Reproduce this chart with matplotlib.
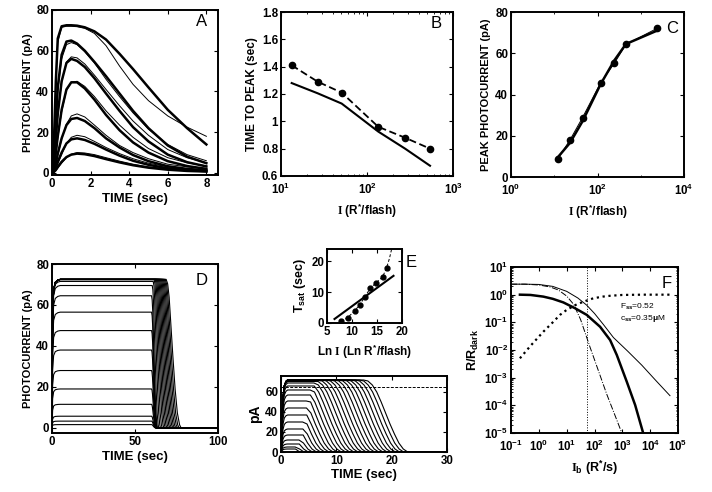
import matplotlib
matplotlib.use('Agg')
import numpy as np
import matplotlib.pyplot as plt
from matplotlib.ticker import LogLocator, NullFormatter, FormatStrFormatter

plt.rcParams['font.family'] = 'Liberation Sans'
plt.rcParams['font.weight'] = 'bold'
plt.rcParams['axes.labelweight'] = 'bold'
plt.rcParams['mathtext.fontset'] = 'custom'
plt.rcParams['mathtext.rm'] = 'Liberation Serif'
plt.rcParams['mathtext.bf'] = 'Liberation Sans:bold'
plt.rcParams['mathtext.default'] = 'bf'

# ---- A: flash responses (thick = model, thin = data)
tA = [0, 0.1, 0.2, 0.3, 0.5, 0.75, 1.0, 1.3, 1.7, 2.2, 2.8, 3.5, 4.2, 5.0, 6.0, 7.0, 8.0]
A_model = [
    [0, 0.5, 1.5, 3, 5.5, 7.8, 9.0, 9.5, 9.2, 8.3, 6.8, 5.2, 3.8, 2.6, 1.6, 1.0, 0.7],
    [0, 1, 3, 5.5, 10, 14.5, 16.5, 17, 16.2, 14.3, 11.5, 8.5, 6, 4, 2.3, 1.4, 0.9],
    [0, 1.5, 5, 9.5, 17, 23.5, 26.5, 27, 25.5, 22, 17, 12.5, 8.8, 5.8, 3.3, 2.0, 1.3],
    [0, 3, 10, 18, 31, 41, 44.5, 44.5, 41.5, 36, 28.5, 21, 15, 10, 5.8, 3.4, 2.0],
    [0, 5, 17, 29, 45, 54, 56, 55, 52, 46.5, 39, 30.5, 22.5, 15.5, 9, 5.3, 3.2],
    [0, 8, 26, 42, 58, 64.5, 65, 63.5, 60, 54.5, 47.5, 39, 30.5, 22, 13.5, 8, 4.8],
    [0, 15, 45, 66, 72, 72.5, 72.5, 72.3, 71.5, 69.5, 65.5, 58.5, 51, 42, 31, 22, 14],
]
A_data = [
    [0, 0.3, 1, 2.3, 4.8, 7.5, 9.2, 10, 9.8, 9, 7.5, 5.8, 4.3, 3.0, 2.0, 1.4, 1.0],
    [0, 0.6, 2.2, 4.5, 9, 14.5, 17.5, 18.5, 17.8, 15.5, 12.5, 9.5, 7, 4.8, 3.0, 2.0, 1.5],
    [0, 1, 4, 8.5, 16.5, 24, 28, 29, 27.5, 23.5, 18.5, 13.5, 10, 7, 4.3, 3.0, 2.2],
    [0, 2.5, 9, 17, 30, 40.5, 44.5, 45, 42.5, 37.5, 30.5, 23.5, 17.5, 12, 7.5, 5, 3.5],
    [0, 4.5, 16, 28, 44.5, 54.5, 57, 56.5, 53.5, 48, 41, 33, 25.5, 18.5, 11.5, 7.5, 5],
    [0, 7, 24, 40, 56, 63, 64, 63, 59.5, 54, 46, 37.5, 29.5, 21.5, 14, 9, 6],
    [0, 14, 43, 64, 71.5, 72, 72, 71.8, 71, 68.5, 62.5, 52.5, 43.5, 35.5, 28, 22.5, 18],
]

# ---- B: time to peak
B_I = [13.3, 26.7, 50.7, 135, 277, 540]
B_data = [1.41, 1.29, 1.21, 0.96, 0.88, 0.80]
B_model = [1.28, 1.205, 1.13, 0.925, 0.80, 0.675]

# ---- C: peak photocurrent
C_I = [12, 23, 45, 118, 244, 455, 2400]
C_data = [8.7, 17.9, 28.8, 45.7, 55.1, 64.3, 72.1]
C_model = [9.5, 16.5, 27, 45, 56.5, 64.5, 71]

# ---- D: step responses
D_amp = [1.6, 3.3, 5.7, 11.5, 19, 28, 38, 47.5, 56.5, 64.5, 69.5, 71.5, 72.3,
         72.5, 72.5, 72.5, 72.5, 72.5, 72.5, 72.5, 72.5, 72.5, 72.5, 72.5, 72.5]
D_off = [60, 60, 60, 60, 60, 60, 60, 60, 60, 60, 60.4, 61.0, 61.6,
         62.2, 62.8, 63.4, 64.0, 64.6, 65.2, 65.8, 66.4, 67.0, 67.6, 68.2, 68.8]
D_fall_len = [2.5, 2.5, 2.5, 2.6, 2.7, 2.8, 3.0, 3.2, 3.4, 3.6, 4.0, 4.4, 4.8,
              5.2, 5.5, 5.8, 6.1, 6.4, 6.7, 7.0, 7.3, 7.6, 8.0, 8.4, 9.0]
D_rise_t = [0, 0.4, 1, 2, 3.5, 5]
D_rise_f = [0, 0.75, 0.93, 0.98, 0.995, 1.0]
D_fall_u = [0, 0.1, 0.2, 0.3, 0.45, 0.6, 0.75, 0.9, 1.0]
D_fall_f = [1, 0.97, 0.88, 0.72, 0.48, 0.26, 0.1, 0.02, 0]

# ---- E top: saturation time
E_lnI = [7.8, 9.1, 10.5, 11.5, 12.6, 13.6, 14.8, 16.1, 16.9]
E_tsat = [0.6, 1.7, 3.9, 5.8, 8.5, 11.2, 13.0, 14.9, 17.8]
E_dash_x = [7.8, 9.1, 10.5, 11.5, 12.6, 13.6, 14.8, 16.1, 16.9, 17.5, 18.0]
E_dash_y = [0.6, 1.7, 3.9, 5.8, 8.5, 11.2, 13.0, 14.9, 17.8, 21.0, 24.5]
E_fit_x = [6.5, 18.3]
E_fit_y = [1.3, 15.3]

# ---- E bottom: saturating flashes
E2_rise_t = [0, 0.15, 0.35, 0.6, 0.9, 1.2]
E2_rise_f = [0, 0.4, 0.75, 0.92, 0.98, 1.0]
E2_fall_dt = [0, 0.8, 1.6, 2.4, 3.2, 4.0, 4.8, 5.6, 6.4, 7.2, 8.0]
E2_fall_pa = [72, 71, 67, 60, 50, 39, 28, 18, 9, 3, 0]
E2_shift = [-4.6, -3.85, -3.1, -2.35, -1.6, -0.85, -0.1, 0.65, 1.4, 2.15, 2.9, 3.65,
            4.4, 5.15, 5.9, 6.65, 7.4, 8.15, 8.9, 9.65, 10.4, 11.15, 11.9, 12.65,
            13.4, 14.15, 14.9]
E2_amp = [3, 5, 8, 12, 17, 23, 30, 37, 44, 51, 57, 62, 66, 69, 70.5, 71.5, 72,
          72, 72, 72, 72, 72, 72, 72, 72, 72, 72]
E2_dash = 65

# ---- F: steady state (log10 values)
F_thick_x = [-0.68, -0.3, 0.16, 0.5, 0.88, 1.3, 1.72, 2.2, 2.56, 2.8, 3.16, 3.46, 3.75]
F_thick_y = [0.0, -0.01, -0.07, -0.15, -0.28, -0.49, -0.73, -1.16, -1.64, -2.18, -3.15, -3.99, -5.01]
F_thin_x = [-1, -0.5, 0, 0.5, 1.0, 1.4, 1.72, 2.0, 2.32, 2.68, 3.2, 3.7, 4.2, 4.71]
F_thin_y = [0.38, 0.38, 0.37, 0.30, 0.12, -0.12, -0.38, -0.68, -1.08, -1.55, -2.05, -2.55, -3.1, -3.65]
F_dd_x = [-1, -0.5, 0, 0.4, 0.7, 1.0, 1.25, 1.5, 1.84, 2.14, 2.44, 2.75, 3.0]
F_dd_y = [0.38, 0.38, 0.35, 0.28, 0.17, -0.05, -0.35, -0.9, -1.9, -2.75, -3.6, -4.4, -5.05]
F_dot_x = [-0.68, -0.3, 0.16, 0.5, 0.76, 1.0, 1.36, 1.7, 1.96, 2.3, 2.56, 3.0, 3.76, 4.7]
F_dot_y = [-2.30, -1.85, -1.34, -1.0, -0.73, -0.55, -0.35, -0.22, -0.13, -0.07, -0.04, -0.01, 0.0, 0.0]
F_vline = 52


def style(ax, xpad=2.5):
    ax.tick_params(which='both', direction='in', top=True, right=True, labelsize=8.3)
    ax.tick_params(axis='y', pad=2)
    ax.tick_params(axis='x', pad=xpad)
    ax.tick_params(which='major', length=3, width=0.8)
    ax.tick_params(which='minor', length=1.6, width=0.6)
    for s in ax.spines.values():
        s.set_linewidth(1.4)


def letter(ax, txt, x=0.9, y=0.93):
    ax.text(x, y, txt, transform=ax.transAxes, fontsize=12, fontweight='normal',
            ha='center', va='center')


def sat_trace(amp, shift, t_end):
    xs = list(E2_rise_t)
    ys = [amp * f for f in E2_rise_f]
    prev = None
    for dt, pa in zip(E2_fall_dt, E2_fall_pa):
        x = shift + dt
        if pa >= amp:
            prev = x
            continue
        if x <= xs[-1]:
            continue
        if prev is not None and prev > xs[-1]:
            xs.append(prev)
            ys.append(amp)
        prev = None
        xs.append(x)
        ys.append(pa)
    xs.append(t_end)
    ys.append(0)
    return xs, ys


fig = plt.figure(figsize=(7.12, 4.92), dpi=100)

# A
ax = fig.add_axes([0.0730, 0.6443, 0.2331, 0.3354])
for y in A_data:
    ax.plot(tA, y, color='k', lw=0.7)
for y in A_model:
    ax.plot(tA, y, color='k', lw=1.8)
ax.set_xlim(0, 8.6)
ax.set_ylim(-1, 80)
ax.set_xticks([0, 2, 4, 6, 8])
ax.set_yticks([0, 20, 40, 60, 80])
ax.set_xlabel('TIME (sec)', fontsize=9.5, labelpad=2)
ax.set_ylabel('PHOTOCURRENT (pA)', fontsize=8, labelpad=2)
style(ax)
letter(ax, 'A')

# B
ax = fig.add_axes([0.3947, 0.6423, 0.2416, 0.3333])
ax.plot(B_I, B_data, 'k--', lw=1.3, marker='o', ms=4.5, dashes=(4, 2))
ax.plot(B_I, B_model, 'k-', lw=1.5)
ax.set_xscale('log')
ax.set_xlim(10, 1000)
ax.set_ylim(0.6, 1.8)
ax.set_yticks([0.6, 0.8, 1.0, 1.2, 1.4, 1.6, 1.8])
ax.yaxis.set_major_formatter(FormatStrFormatter('%g'))
ax.xaxis.set_minor_formatter(NullFormatter())
ax.set_xlabel(r'$\mathrm{I}$ (R$^{*}$/flash)', fontsize=8.5, labelpad=3)
ax.set_ylabel('TIME TO PEAK (sec)', fontsize=8.5, labelpad=3)
style(ax, xpad=4.5)
letter(ax, 'B')

# C
ax = fig.add_axes([0.7177, 0.6402, 0.2430, 0.3354])
ax.plot(C_I, C_data, 'k-', lw=0.7, marker='o', ms=4.5)
ax.plot(C_I, C_model, 'k-', lw=1.8)
ax.set_xscale('log')
ax.set_xlim(1, 1e4)
ax.set_ylim(0, 80)
ax.set_xticks([1, 100, 1e4])
ax.xaxis.set_minor_locator(LogLocator(base=10, subs=(1.0,), numticks=10))
ax.xaxis.set_minor_formatter(NullFormatter())
ax.set_yticks([0, 20, 40, 60, 80])
ax.set_xlabel(r'$\mathrm{I}$ (R$^{*}$/flash)', fontsize=8.5, labelpad=3)
ax.set_ylabel('PEAK PHOTOCURRENT (pA)', fontsize=8, labelpad=3)
style(ax, xpad=4.5)
letter(ax, 'C', x=0.93, y=0.9)

# D
ax = fig.add_axes([0.0730, 0.1199, 0.2331, 0.3435])
for amp, off, flen in zip(D_amp, D_off, D_fall_len):
    xs = list(D_rise_t) + [off + u * flen for u in D_fall_u] + [100]
    ys = [amp * f for f in D_rise_f] + [amp * f for f in D_fall_f] + [0]
    ax.plot(xs, ys, color='k', lw=0.8)
ax.set_xlim(0, 100)
ax.set_ylim(-2.5, 80)
ax.set_xticks([0, 50, 100])
ax.set_yticks([0, 20, 40, 60, 80])
ax.set_xlabel('TIME (sec)', fontsize=9.5, labelpad=2)
ax.set_ylabel('PHOTOCURRENT (pA)', fontsize=8, labelpad=2)
style(ax)
letter(ax, 'D', y=0.9)

# E top
ax = fig.add_axes([0.4593, 0.3435, 0.1053, 0.1504])
ax.plot(E_dash_x, E_dash_y, 'k--', lw=0.7, dashes=(3, 2))
ax.plot(E_lnI, E_tsat, 'ko', ms=3.5)
ax.plot(E_fit_x, E_fit_y, 'k-', lw=1.5)
ax.set_xlim(5, 20)
ax.set_ylim(0, 24)
ax.set_xticks([5, 10, 15, 20])
ax.set_yticks([0, 10, 20])
ax.set_xlabel(r'Ln $\mathrm{I}$ (Ln R$^{*}$/flash)', fontsize=8.5, labelpad=3)
ax.set_ylabel(r'T$_{sat}$ (sec)', fontsize=9, labelpad=2)
style(ax)
ax.text(1.12, 0.82, 'E', transform=ax.transAxes, fontsize=12, fontweight='normal',
        ha='center', va='center')

# E bottom
ax = fig.add_axes([0.3947, 0.0813, 0.2331, 0.1545])
ax.axhline(E2_dash, color='k', lw=0.7, ls='--', dashes=(3, 1.5))
for amp, sh in zip(E2_amp, E2_shift):
    xs, ys = sat_trace(amp, sh, 30)
    ax.plot(xs, ys, color='k', lw=0.8)
ax.set_xlim(0, 30)
ax.set_ylim(0, 76)
ax.set_xticks([0, 10, 20, 30])
ax.set_yticks([0, 20, 40, 60])
ax.set_xlabel('TIME (sec)', fontsize=9.5, labelpad=1)
ax.set_ylabel('pA', fontsize=10, labelpad=2)
style(ax)

# F
ax = fig.add_axes([0.7177, 0.1199, 0.2346, 0.3374])
ax.axvline(F_vline, color='k', lw=0.7, ls=':')
ax.plot(10 ** np.array(F_dot_x), 10 ** np.array(F_dot_y), 'k:', lw=1.6)
ax.plot(10 ** np.array(F_dd_x), 10 ** np.array(F_dd_y), 'k-.', lw=0.7)
ax.plot(10 ** np.array(F_thin_x), 10 ** np.array(F_thin_y), 'k-', lw=0.7)
ax.plot(10 ** np.array(F_thick_x), 10 ** np.array(F_thick_y), 'k-', lw=1.8)
ax.set_xscale('log')
ax.set_yscale('log')
ax.set_xlim(0.1, 1e5)
ax.set_ylim(1e-5, 10)
ax.xaxis.set_major_locator(LogLocator(base=10, numticks=10))
ax.yaxis.set_major_locator(LogLocator(base=10, numticks=10))
ax.xaxis.set_minor_formatter(NullFormatter())
ax.yaxis.set_minor_formatter(NullFormatter())
ax.text(830, 10 ** -0.43, r'F$_{ss}$=0.52', fontsize=6, fontweight='normal', ha='left', va='center')
ax.text(830, 10 ** -0.85, r'c$_{ss}$=0.35$\mu$M', fontsize=6, fontweight='normal', ha='left', va='center')
ax.set_xlabel(r'$\mathrm{I}_{b}$ (R$^{*}$/s)', fontsize=9, labelpad=3)
ax.set_ylabel(r'R/R$_{dark}$', fontsize=9, labelpad=2)
style(ax, xpad=4.5)
letter(ax, 'F', x=0.93, y=0.9)

fig.savefig('out.png', dpi=100)
